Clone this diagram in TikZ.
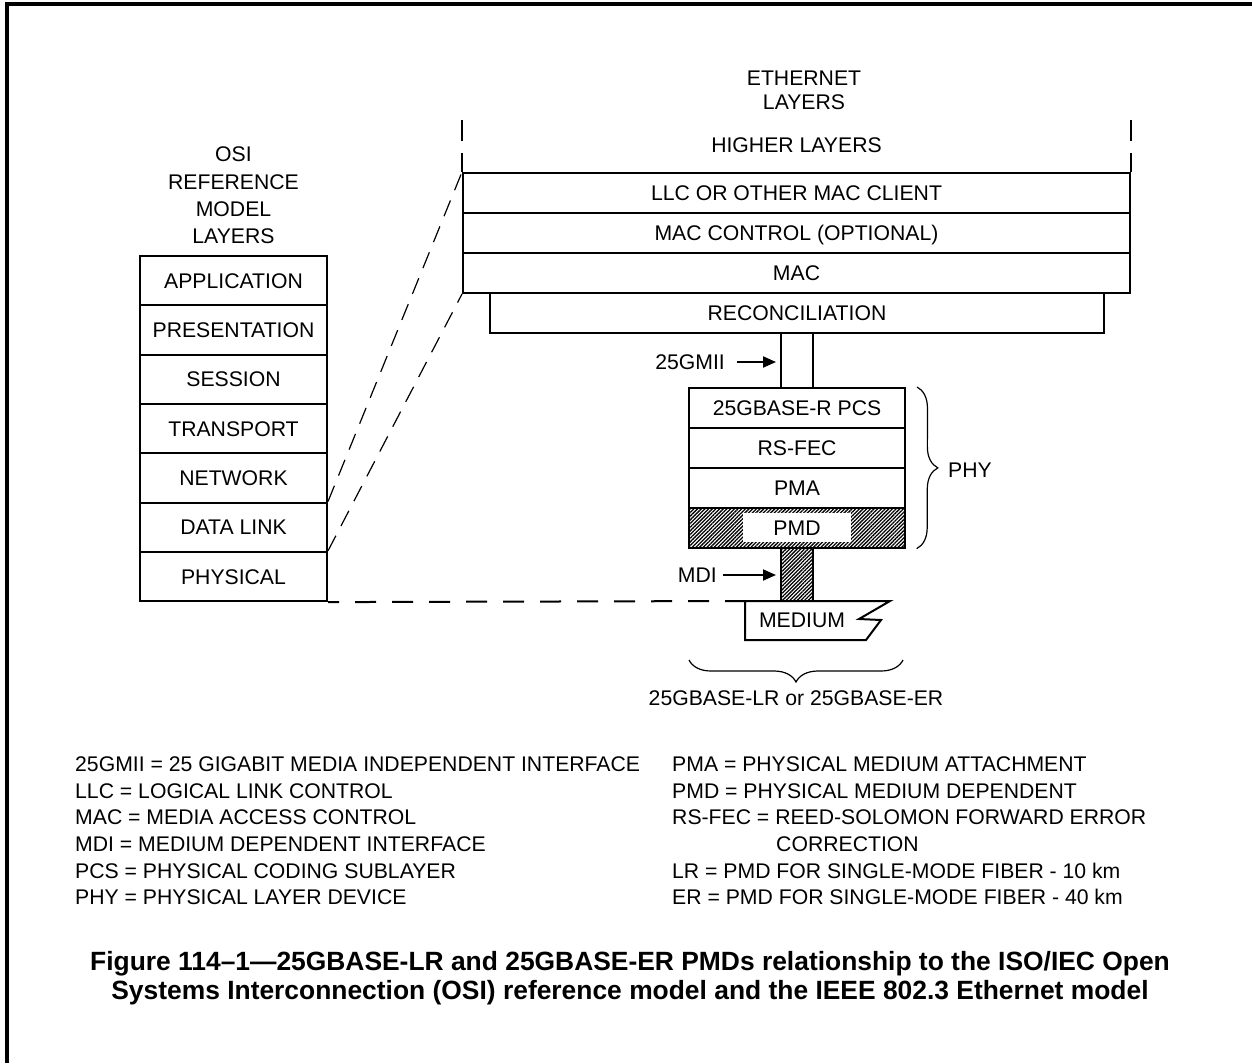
\documentclass[tikz,border=0pt]{standalone}
\usepackage{fontspec}
\setmainfont{Liberation Sans}
\usetikzlibrary{arrows.meta,patterns.meta,decorations.pathreplacing}

\newcommand\dgfont{\fontsize{21.2}{25}\selectfont}
\newcommand\capfont{\fontsize{26.4}{30}\selectfont\bfseries}

\tikzset{
  lbl/.style={inner sep=0pt, font=\dgfont, text height=15.2pt, text depth=0pt},
  layerbox/.style={lbl, draw, line width=2pt, minimum width=#1},
  osibox/.style={layerbox=187pt, minimum height=49.3pt},
  ethbox/.style={layerbox=667pt, minimum height=40pt},
  phybox/.style={layerbox=216pt, minimum height=40pt},
  hatch/.style={pattern={Lines[angle=45,distance=2.6pt,line width=1.3pt]}},
  thinbar/.style={draw, line width=2pt, minimum width=32pt, inner sep=0pt},
  arr/.style={line width=2pt, -{Triangle[length=13pt,width=11pt]}},
  tickline/.style={line width=2pt},
  slant/.style={line width=1.2pt, dash pattern=on 17pt off 11pt},
  legend/.style={lbl, anchor=west},
  capline/.style={inner sep=0pt, font=\capfont, anchor=base},
  bracedeco/.style={decorate, line width=1.2pt,
    decoration={brace, amplitude=#1, aspect=0.5}}
}

\begin{document}
\begin{tikzpicture}[x=1pt,y=-1pt]
\useasboundingbox (0,0) rectangle (1252,1063);

% page frame (top and left edges)
\draw[line width=4pt] (7,1063) -- (7,4) -- (1252,4);

% OSI reference model column
\node[lbl] (osi1) at (233.5,154) {OSI};
\node[lbl] (osi2) at (233.5,182) {REFERENCE};
\node[lbl] (osi3) at (233.5,209) {MODEL};
\node[lbl] (osi4) at (233.5,236) {LAYERS};
\node[osibox] (app)   at (233.5,280.65) {APPLICATION};
\node[osibox] (pres)  at (233.5,329.95) {PRESENTATION};
\node[osibox] (sess)  at (233.5,379.25) {SESSION};
\node[osibox] (trans) at (233.5,428.55) {TRANSPORT};
\node[osibox] (net)   at (233.5,477.85) {NETWORK};
\node[osibox] (dlink) at (233.5,527.15) {DATA LINK};
\node[osibox] (phys)  at (233.5,576.45) {PHYSICAL};

% Ethernet layers
\node[lbl] (eth1) at (804,78) {ETHERNET};
\node[lbl] (eth2) at (804,102) {LAYERS};
\node[lbl] (higher) at (796.5,145) {HIGHER LAYERS};
\node[ethbox] (llc)  at (796.5,193) {LLC OR OTHER MAC CLIENT};
\node[ethbox] (macc) at (796.5,233) {MAC CONTROL (OPTIONAL)};
\node[ethbox] (mac)  at (796.5,273) {MAC};
\node[layerbox=614pt, minimum height=40pt] (recon) at (797,313) {RECONCILIATION};

% broken side lines of the higher layers
\draw[tickline] (llc.north west) -- ++(0,-19) ++(0,-12) -- ++(0,-21);
\draw[tickline] (llc.north east) -- ++(0,-19) ++(0,-12) -- ++(0,-21);

% 25GMII
\node[thinbar, minimum height=55pt] (gmii) at (797,360.5) {};
\node[lbl, anchor=east] (gmiilbl) at (725,362) {25GMII};
\draw[arr] ([xshift=12pt]gmiilbl.east) -- ([xshift=-4pt]gmiilbl.east -| gmii.west);

% PHY sublayers
\node[phybox] (pcs)   at (797,408) {25GBASE-R PCS};
\node[phybox] (rsfec) at (797,448) {RS-FEC};
\node[phybox] (pma)   at (797,488) {PMA};
\node[phybox, hatch] (pmd) at (797,528) {};
\node[lbl, fill=white, minimum width=108pt, minimum height=29pt] (pmdlbl) at (797,527.5) {PMD};

\coordinate (phyA) at ([xshift=11pt]pcs.north east);
\coordinate (phyB) at ([xshift=11pt]pmd.south east);
\draw[bracedeco=21pt] (phyA) -- (phyB);
\node[lbl, anchor=west] (phy) at (948,470) {PHY};

% MDI and medium
\node[thinbar, hatch, minimum height=53pt] (mdi) at (797,574.5) {};
\node[lbl, anchor=east] (mdilbl) at (717,575) {MDI};
\draw[arr] ([xshift=6pt]mdilbl.east) -- ([xshift=-4pt]mdilbl.east -| mdi.west);

\coordinate (medTL) at (745,601);
\draw[line width=2pt] (medTL) -- (890,601) -- (859,619) -- (881,620) -- (866,640)
  -- (745,640) -- cycle;
\node[lbl] (medium) at (802,620) {MEDIUM};

\coordinate (brR) at (903,660);
\coordinate (brL) at (689,660);
\draw[bracedeco=22pt] (brR) -- (brL);
\node[lbl] (pmdname) at (796,698) {25GBASE-LR or 25GBASE-ER};

% mapping between the two models
\draw[slant] (dlink.north east) -- (llc.north west);
\draw[slant] (phys.north east) -- (mac.south west);
\draw[line width=2pt, dash pattern=on 21pt off 16pt, dash phase=10pt] (phys.south east) -- (medTL);

% abbreviations
\node[legend] (a1) at (75,764)   {25GMII = 25 GIGABIT MEDIA INDEPENDENT INTERFACE};
\node[legend] (a2) at (75,790.6) {LLC = LOGICAL LINK CONTROL};
\node[legend] (a3) at (75,817.2) {MAC = MEDIA ACCESS CONTROL};
\node[legend] (a4) at (75,843.8) {MDI = MEDIUM DEPENDENT INTERFACE};
\node[legend] (a5) at (75,870.4) {PCS = PHYSICAL CODING SUBLAYER};
\node[legend] (a6) at (75,897)   {PHY = PHYSICAL LAYER DEVICE};
\node[legend] (b1) at (672,764)   {PMA = PHYSICAL MEDIUM ATTACHMENT};
\node[legend] (b2) at (672,790.6) {PMD = PHYSICAL MEDIUM DEPENDENT};
\node[legend] (b3) at (672,817.2) {RS-FEC = REED-SOLOMON FORWARD ERROR};
\node[legend] (b4) at (776,843.8) {CORRECTION};
\node[legend] (b5) at (672,870.4) {LR = PMD FOR SINGLE-MODE FIBER - 10 km};
\node[legend] (b6) at (672,897)   {ER = PMD FOR SINGLE-MODE FIBER - 40 km};

% caption
\node[capline] (cap1) at (630,970) {Figure 114–1—25GBASE-LR and 25GBASE-ER PMDs relationship to the ISO/IEC Open};
\node[capline] (cap2) at (630,999) {Systems Interconnection (OSI) reference model and the IEEE 802.3 Ethernet model};
\end{tikzpicture}
\end{document}
